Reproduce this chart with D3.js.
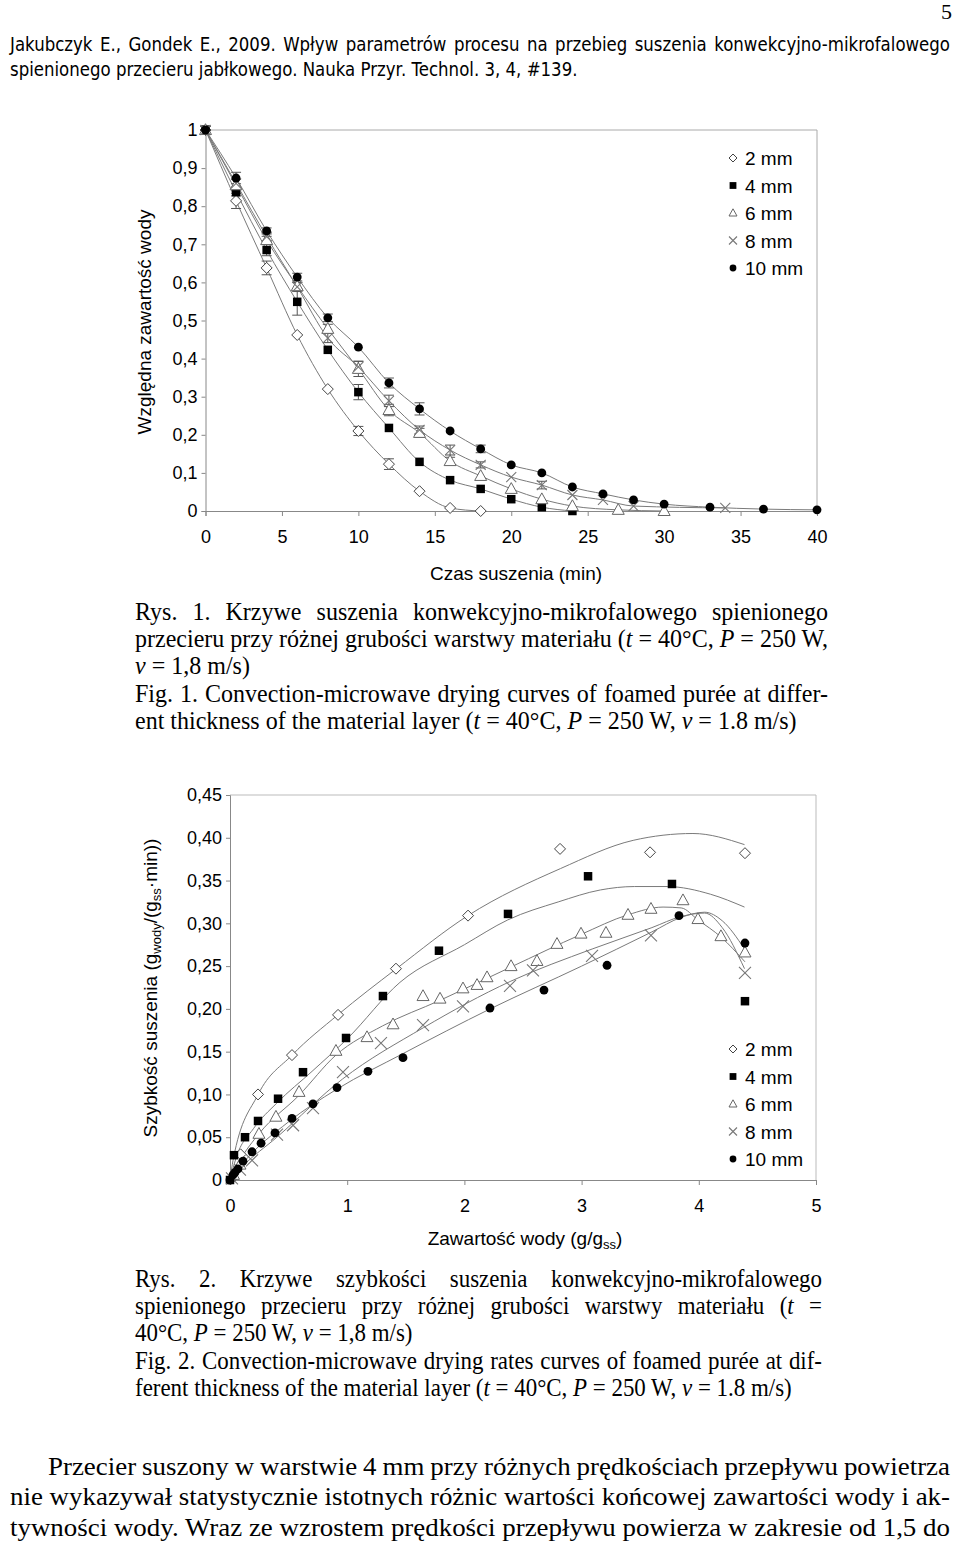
<!DOCTYPE html>
<html><head><meta charset="utf-8">
<script src="https://cdn.jsdelivr.net/npm/d3@7"></script>
<style>body{margin:0;background:#fff}svg{display:block}</style>
</head><body>
<svg id="page" width="960" height="1542"></svg>
<script>
// ---------------- DATA: Fig. 1 (drying curves) ----------------
const xTicksTop = [0,5,10,15,20,25,30,35,40];
const yTicksTop = [0,0.1,0.2,0.3,0.4,0.5,0.6,0.7,0.8,0.9,1];
const yTickLabelsTop = ["0","0,1","0,2","0,3","0,4","0,5","0,6","0,7","0,8","0,9","1"];

const t2  = [0,2,4,6,8,10,12,14,16,18];
const mr2 = [1.0,0.814,0.638,0.462,0.32,0.21,0.123,0.052,0.008,0.0];
const err2= [0.01,0.02,0.018,0,0,0.012,0.014,0,0,0];

const t4  = [0,2,4,6,8,10,12,14,16,18,20,22,24];
const mr4 = [1.0,0.837,0.685,0.549,0.423,0.312,0.218,0.129,0.081,0.058,0.031,0.01,0.0];
const err4= [0.01,0.01,0.015,0.035,0,0.02,0,0,0,0,0,0,0];

const t6  = [0,2,4,6,8,10,12,14,16,18,20,22,24,27,30];
const mr6 = [1.0,0.855,0.711,0.59,0.478,0.373,0.265,0.205,0.131,0.092,0.058,0.031,0.013,0.003,0.0];
const err6= [0.01,0,0.01,0.01,0.012,0.02,0.015,0.012,0.01,0,0,0,0,0,0];

const t8  = [0,2,4,6,8,10,12,14,16,18,20,22,24,26,28,34];
const mr8 = [1.0,0.86,0.72,0.588,0.454,0.378,0.289,0.213,0.16,0.121,0.089,0.068,0.042,0.029,0.013,0.008];
const err8= [0.01,0.01,0.01,0.012,0.012,0.015,0.015,0.01,0.013,0.008,0,0.01,0,0,0,0];

const t10  = [0,2,4,6,8,10,12,14,16,18,20,22,24,26,28,30,33,36.5,40];
const mr10 = [1.0,0.874,0.735,0.614,0.507,0.43,0.336,0.268,0.21,0.163,0.121,0.1,0.063,0.045,0.029,0.018,0.01,0.005,0.003];
const err10= [0.01,0.015,0.008,0.01,0.01,0,0.013,0.016,0,0.01,0,0,0,0,0,0,0,0,0];

const seriesNames = ["2 mm","4 mm","6 mm","8 mm","10 mm"];

// ---------------- DATA: Fig. 2 (drying rate curves) ----------------
const xTicksBot = [0,1,2,3,4,5];
const yTicksBot = [0,0.05,0.1,0.15,0.2,0.25,0.3,0.35,0.4,0.45];
const yTickLabelsBot = ["0","0,05","0,10","0,15","0,20","0,25","0,30","0,35","0,40","0,45"];

const X2 = [0.017,0.09,0.239,0.529,0.922,1.416,2.031,2.816,3.584,4.394];
const R2 = [0.002,0.03,0.1,0.146,0.193,0.247,0.309,0.387,0.383,0.382];
const X4 = [0,0.034,0.128,0.239,0.41,0.623,0.99,1.305,1.783,2.372,3.055,3.771,4.394];
const R4 = [0,0.029,0.05,0.069,0.095,0.126,0.166,0.215,0.268,0.311,0.355,0.346,0.209];
const X6 = [0.03,0.085,0.247,0.392,0.589,0.904,1.169,1.391,1.647,1.792,1.988,2.108,2.193,2.398,2.619,2.79,2.995,3.208,3.396,3.592,3.865,3.993,4.189,4.394];
const R6 = [0.006,0.018,0.054,0.074,0.103,0.151,0.167,0.182,0.215,0.212,0.224,0.228,0.237,0.25,0.256,0.276,0.288,0.289,0.31,0.317,0.327,0.305,0.285,0.266];
const X8 = [0.017,0.085,0.188,0.401,0.538,0.708,0.964,1.288,1.647,1.988,2.389,2.585,3.089,3.592,4.394];
const R8 = [0.002,0.012,0.023,0.053,0.064,0.084,0.126,0.16,0.181,0.203,0.227,0.245,0.262,0.286,0.242];
const X10 = [0,0.026,0.043,0.068,0.111,0.188,0.265,0.384,0.529,0.708,0.913,1.177,1.476,2.218,2.679,3.217,3.831,4.394];
const R10 = [0,0.006,0.009,0.013,0.022,0.033,0.043,0.055,0.072,0.089,0.108,0.127,0.143,0.201,0.222,0.251,0.309,0.277];

// fitted curves
const fit2X = [0,0.026,0.24,0.53,0.92,1.42,2.03,2.82,3.44,3.95,4.39];
const fit2R = [0,0.023,0.1,0.146,0.193,0.247,0.309,0.364,0.397,0.405,0.392];
const fit4X = [0,0.05,0.2,0.4,0.7,1.0,1.45,2.0,2.37,2.8,3.16,3.45,3.73,4.1,4.39];
const fit4R = [0,0.025,0.06,0.09,0.127,0.165,0.231,0.275,0.304,0.325,0.339,0.343,0.343,0.334,0.319];
const fit6X = [0,0.085,0.247,0.589,0.904,1.3,1.792,2.398,2.995,3.396,3.695,3.85,3.993,4.189,4.394];
const fit6R = [0,0.023,0.054,0.099,0.146,0.18,0.21,0.249,0.287,0.31,0.319,0.318,0.304,0.284,0.255];
const fit8X = [0,0.1,0.4,0.96,1.65,2.39,3.09,3.6,3.85,4.05,4.2,4.39];
const fit8R = [0,0.015,0.05,0.118,0.178,0.232,0.27,0.295,0.308,0.312,0.295,0.247];
const fit10X = [0,0.1,0.5,0.91,1.48,2.22,3.0,3.6,3.85,4.05,4.2,4.39];
const fit10R = [0,0.018,0.068,0.106,0.148,0.2,0.25,0.29,0.307,0.313,0.303,0.27];

// ---------------- TEXT ----------------
const headerLines = [
  "Jakubczyk E., Gondek E., 2009. Wpływ parametrów procesu na przebieg suszenia konwekcyjno-mikrofalowego",
  "spienionego przecieru jabłkowego. Nauka Przyr. Technol. 3, 4, #139."
];
const caption1 = [
  "Rys. 1. Krzywe suszenia konwekcyjno-mikrofalowego spienionego",
  "przecieru przy różnej grubości warstwy materiału (*t* = 40°C, *P* = 250 W,",
  "*v* = 1,8 m/s)",
  "Fig. 1. Convection-microwave drying curves of foamed purée at differ-",
  "ent thickness of the material layer (*t* = 40°C, *P* = 250 W, *v* = 1.8 m/s)"
];
const caption1Just = [true,true,false,true,false];
const caption2 = [
  "Rys. 2. Krzywe szybkości suszenia konwekcyjno-mikrofalowego",
  "spienionego przecieru przy różnej grubości warstwy materiału (*t* =",
  "40°C, *P* = 250 W, *v* = 1,8 m/s)",
  "Fig. 2. Convection-microwave drying rates curves of foamed purée at dif-",
  "ferent thickness of the material layer (*t* = 40°C, *P* = 250 W, *v* = 1.8 m/s)"
];
const caption2Just = [true,true,false,true,false];
const bodyLines = [
  "Przecier suszony w warstwie 4 mm przy różnych prędkościach przepływu powietrza",
  "nie wykazywał statystycznie istotnych różnic wartości końcowej zawartości wody i ak-",
  "tywności wody. Wraz ze wzrostem prędkości przepływu powierza w zakresie od 1,5 do"
];

// ---------------- DRAWING ----------------
const svg = d3.select("#page");
svg.append("rect").attr("width",960).attr("height",1542).attr("fill","#fff");

const SANS = "Liberation Sans, Arial, sans-serif";
const SERIF = "Liberation Serif, Times New Roman, serif";

function makeLine(parent, x, y, str, o){
  const t = parent.append("text").attr("font-family",o.family).attr("font-size",o.size)
    .attr("fill","#000").attr("transform",`translate(${x},${y}) scale(${o.sx},1)`);
  str.split("*").forEach((s,i)=>{ if(!s) return; const ts=t.append("tspan").text(s); if(i%2===1) ts.attr("font-style","italic"); });
  if(o.justify){
    const w = t.node().getComputedTextLength();
    const nsp = (str.match(/ /g)||[]).length;
    if(nsp>0) t.style("word-spacing", ((o.target/o.sx - w)/nsp) + "px");
  }
  return t;
}
function naturalWidth(str, family, size){
  const t = svg.append("text").attr("font-family",family).attr("font-size",size);
  str.split("*").forEach((s,i)=>{ if(!s) return; const ts=t.append("tspan").text(s); if(i%2===1) ts.attr("font-style","italic"); });
  const w = t.node().getComputedTextLength(); t.remove(); return w;
}

// page number
svg.append("text").attr("x",952).attr("y",19).attr("text-anchor","end")
  .attr("font-family",SERIF).attr("font-size",22).text("5");

// header
{
  const fam = "DejaVu Sans, Verdana, sans-serif", size = 19;
  const sx = 568 / naturalWidth(headerLines[1], fam, size);
  makeLine(svg, 10, 51, headerLines[0], {family:fam,size,sx,justify:true,target:940});
  makeLine(svg, 10, 76, headerLines[1], {family:fam,size,sx,justify:false});
}

// captions
function caption(lines, just, y0, refIdx, refW, right){
  const size = 25;
  const sx = refW / naturalWidth(lines[refIdx], SERIF, size);
  lines.forEach((l,i)=> makeLine(svg, 135, y0 + i*27.2, l, {family:SERIF,size,sx,justify:just[i],target:right-135}));
}
caption(caption1, caption1Just, 620, 4, 662, 828);
caption(caption2, caption2Just, 1287, 4, 657, 822);

// body text
{
  const size = 26;
  const sx = 940 / naturalWidth(bodyLines[2], SERIF, size);
  makeLine(svg, 48, 1475, bodyLines[0], {family:SERIF,size,sx,justify:true,target:902});
  makeLine(svg, 10, 1505, bodyLines[1], {family:SERIF,size,sx,justify:true,target:940});
  makeLine(svg, 10, 1536, bodyLines[2], {family:SERIF,size,sx,justify:true,target:940});
}

// ---------- symbols ----------
function drawSymbol(g, type, x, y, s){
  if(type==="diamond"){
    g.append("path").attr("d",`M${x},${y-s}L${x+s},${y}L${x},${y+s}L${x-s},${y}Z`)
      .attr("fill","#fff").attr("stroke","#444").attr("stroke-width",1);
  } else if(type==="square"){
    g.append("rect").attr("x",x-s*0.85).attr("y",y-s*0.85).attr("width",s*1.7).attr("height",s*1.7).attr("fill","#000");
  } else if(type==="triangle"){
    g.append("path").attr("d",`M${x},${y-s*1.05}L${x+s},${y+s*0.75}L${x-s},${y+s*0.75}Z`)
      .attr("fill","#fff").attr("stroke","#666").attr("stroke-width",1);
  } else if(type==="cross"){
    g.append("path").attr("d",`M${x-s},${y-s}L${x+s},${y+s}M${x-s},${y+s}L${x+s},${y-s}`)
      .attr("stroke","#777").attr("stroke-width",1.1).attr("fill","none");
  } else if(type==="circle"){
    g.append("circle").attr("cx",x).attr("cy",y).attr("r",s*0.85).attr("fill","#000");
  }
}
const symbols = ["diamond","square","triangle","cross","circle"];

function legend(g, x, y0, dy, s){
  seriesNames.forEach((n,i)=>{
    drawSymbol(g, symbols[i], x, y0+i*dy, s);
    g.append("text").attr("x",x+12).attr("y",y0+i*dy+7).attr("font-family",SANS).attr("font-size",19).text(n);
  });
}

// ---------------- Fig. 1 chart ----------------
{
  const g = svg.append("g");
  const x = d3.scaleLinear().domain([0,40]).range([205.5,817]);
  const y = d3.scaleLinear().domain([0,1]).range([511,130]);
  g.append("path").attr("d",`M${x(0)},${y(1)}H${x(40)}V${y(0)}`).attr("fill","none").attr("stroke","#aaa");
  const ax = g.append("g").attr("transform",`translate(0,${y(0)})`)
    .call(d3.axisBottom(x).tickValues(xTicksTop).tickSize(5).tickPadding(14).tickFormat(d=>String(d)));
  const ay = g.append("g").attr("transform",`translate(${x(0)},0)`)
    .call(d3.axisLeft(y).tickValues(yTicksTop).tickSize(4).tickPadding(4).tickFormat((d,i)=>yTickLabelsTop[i]));
  [ax,ay].forEach(a=>{
    a.select(".domain").attr("stroke","#888");
    a.selectAll(".tick line").attr("stroke","#888");
    a.selectAll("text").attr("font-family",SANS).attr("font-size",18).attr("fill","#000");
  });

  const series = [
    {t:t2,v:mr2,e:err2},{t:t4,v:mr4,e:err4},{t:t6,v:mr6,e:err6},{t:t8,v:mr8,e:err8},{t:t10,v:mr10,e:err10}
  ];
  const line = d3.line().curve(d3.curveMonotoneX).x(d=>x(d[0])).y(d=>y(d[1]));
  series.forEach(s=>{
    const pts = s.t.map((tt,i)=>[tt,s.v[i]]);
    g.append("path").attr("d",line(pts)).attr("fill","none").attr("stroke","#7a7a7a").attr("stroke-width",1);
  });
  series.forEach(s=>{
    s.t.forEach((tt,i)=>{
      const e = s.e[i]; if(!e) return;
      const cx = x(tt), y1 = y(s.v[i]+e), y2 = y(s.v[i]-e);
      g.append("path").attr("d",`M${cx},${y1}V${y2}M${cx-5},${y1}H${cx+5}M${cx-5},${y2}H${cx+5}`)
        .attr("stroke","#555").attr("stroke-width",1).attr("fill","none");
    });
  });
  const sizes = [5.5,5,6,5,5.2];
  series.forEach((s,k)=>{
    s.t.forEach((tt,i)=> drawSymbol(g, symbols[k], x(tt), y(s.v[i]), sizes[k]));
  });
  legend(g, 733, 158, 27.5, 4);
  g.append("text").attr("transform","translate(151,322) rotate(-90)").attr("text-anchor","middle")
    .attr("font-family",SANS).attr("font-size",19).text("Względna zawartość wody");
  g.append("text").attr("x",516).attr("y",580).attr("text-anchor","middle")
    .attr("font-family",SANS).attr("font-size",19).text("Czas suszenia (min)");
}

// ---------------- Fig. 2 chart ----------------
{
  const g = svg.append("g");
  const x = d3.scaleLinear().domain([0,5]).range([230,816]);
  const y = d3.scaleLinear().domain([0,0.45]).range([1180,795]);
  g.append("path").attr("d",`M${x(0)},${y(0.45)}H${x(5)}V${y(0)}`).attr("fill","none").attr("stroke","#bbb");
  const ax = g.append("g").attr("transform",`translate(0,${y(0)})`)
    .call(d3.axisBottom(x).tickValues(xTicksBot).tickSize(5).tickPadding(14).tickFormat(d=>String(d)));
  const ay = g.append("g").attr("transform",`translate(${x(0)},0)`)
    .call(d3.axisLeft(y).tickValues(yTicksBot).tickSize(4).tickPadding(4).tickFormat((d,i)=>yTickLabelsBot[i]));
  [ax,ay].forEach(a=>{
    a.select(".domain").attr("stroke","#888");
    a.selectAll(".tick line").attr("stroke","#888");
    a.selectAll("text").attr("font-family",SANS).attr("font-size",18).attr("fill","#000");
  });

  const fits = [[fit2X,fit2R],[fit4X,fit4R],[fit6X,fit6R],[fit8X,fit8R],[fit10X,fit10R]];
  const line = d3.line().curve(d3.curveMonotoneX).x(d=>x(d[0])).y(d=>y(d[1]));
  fits.forEach(f=>{
    const pts = f[0].map((v,i)=>[v,f[1][i]]);
    g.append("path").attr("d",line(pts)).attr("fill","none").attr("stroke","#7a7a7a").attr("stroke-width",1);
  });
  const pts = [[X2,R2],[X4,R4],[X6,R6],[X8,R8],[X10,R10]];
  const sizes = [5.5,5,6,6,5.2];
  pts.forEach((p,k)=>{
    p[0].forEach((v,i)=> drawSymbol(g, symbols[k], x(v), y(p[1][i]), sizes[k]));
  });
  legend(g, 733, 1049, 27.5, 4);
  const yt = g.append("text").attr("transform","translate(157,988) rotate(-90)").attr("text-anchor","middle")
    .attr("font-family",SANS).attr("font-size",19);
  yt.append("tspan").text("Szybkość suszenia (g");
  yt.append("tspan").attr("font-size",13).attr("dy",4).text("wody");
  yt.append("tspan").attr("dy",-4).text("/(g");
  yt.append("tspan").attr("font-size",13).attr("dy",4).text("ss");
  yt.append("tspan").attr("dy",-4).text("·min))");
  const xt = g.append("text").attr("x",525).attr("y",1245).attr("text-anchor","middle")
    .attr("font-family",SANS).attr("font-size",19);
  xt.append("tspan").text("Zawartość wody (g/g");
  xt.append("tspan").attr("font-size",13).attr("dy",4).text("ss");
  xt.append("tspan").attr("dy",-4).text(")");
}
</script>
</body></html>
